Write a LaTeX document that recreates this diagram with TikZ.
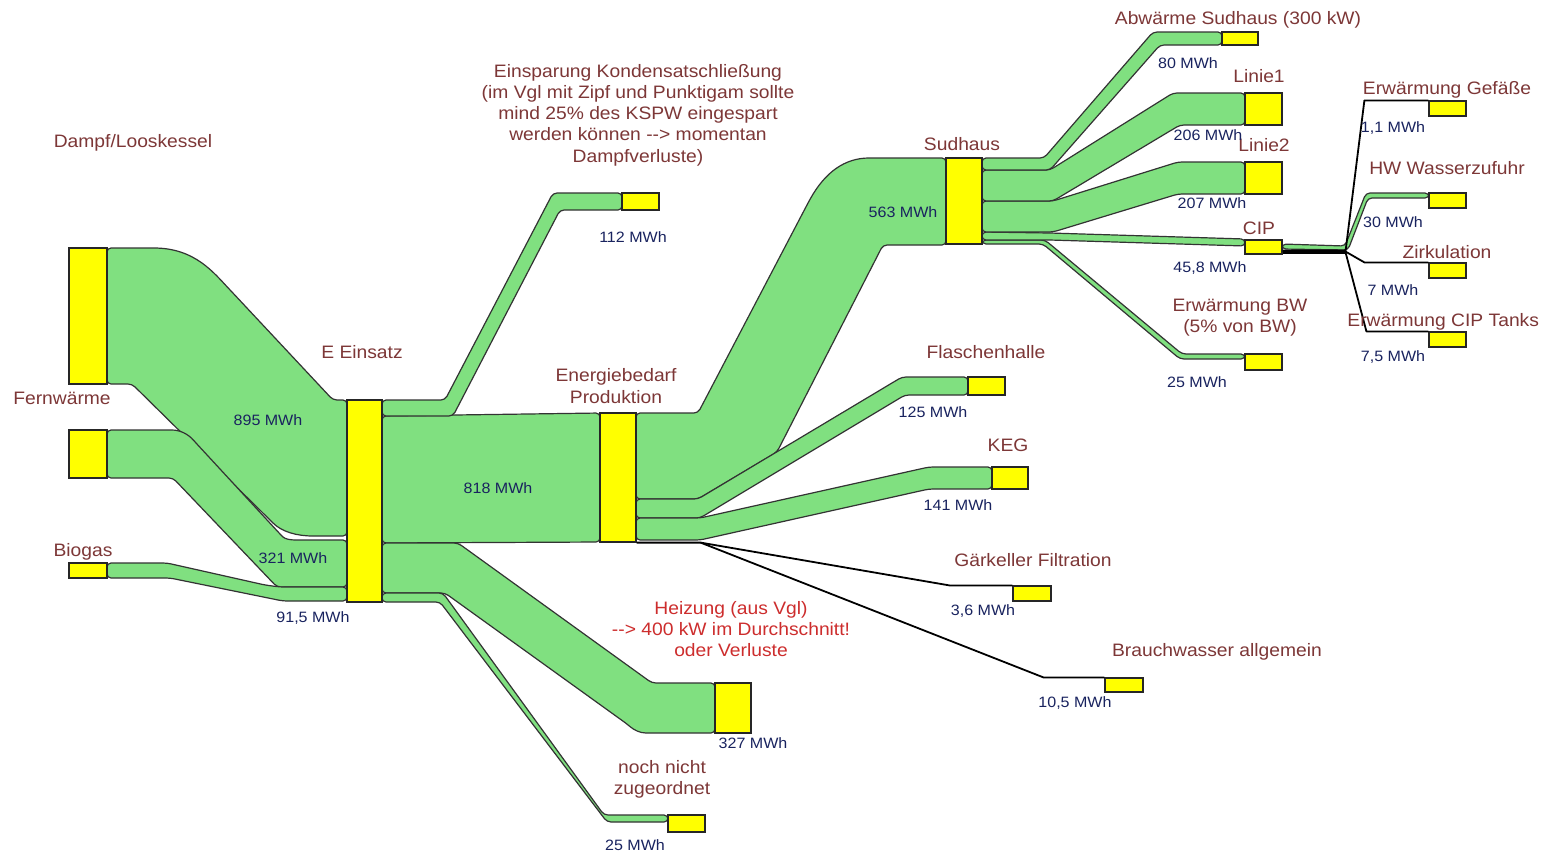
\documentclass[tikz,border=0pt]{standalone}
\usepackage{fontspec}
\setmainfont{Liberation Sans}[FakeStretch=1.07]
\usetikzlibrary{calc,fit}
\definecolor{bandgreen}{RGB}{128,224,128}
\definecolor{boxyellow}{RGB}{255,255,0}
\definecolor{labelbrown}{RGB}{125,55,55}
\definecolor{labelred}{RGB}{205,45,45}
\definecolor{valueblue}{RGB}{25,35,95}

\begin{document}
\begin{tikzpicture}[x=0.5pt,y=-0.5pt,
  band/.style={fill=bandgreen,draw=black!80,line width=0.6pt,line join=round,rounded corners=2pt},
  kasten/.style={fill=boxyellow,draw=black!85,line width=0.6pt,inner sep=0pt},
  leitung/.style={draw=black,line width=0.9pt,line join=round},
  titel/.style={text=labelbrown,font=\fontsize{9}{10.6}\selectfont,align=center,inner sep=0pt},
  wert/.style={text=valueblue,font=\fontsize{7.5}{9}\selectfont,inner sep=0pt}]
\useasboundingbox (0,0) rectangle (1548,853);
\fill[white] (0,0) rectangle (1548,853);

% zufluesse
\path[band] (107,248) -- (150,248) .. controls (195,248) and (214,273) .. (232,292) -- (333,400) -- (347,400)
  -- (347,536) -- (317,536) .. controls (297,536) and (282,532) .. (270,520) -- (132,384) -- (107,384) -- cycle;
\path[band] (107,430) -- (168,430) .. controls (180,430) and (188,434) .. (196,443) -- (280,534)
  .. controls (285,539) and (290,540) .. (300,540) -- (347,540) -- (347,587) -- (277,587) -- (173,478) -- (107,478) -- cycle;
\path[band] (107,563) -- (167,563) -- (265,585) -- (280,587) -- (347,587) -- (347,601) -- (283,601) -- (170,578) -- (107,578) -- cycle;

% E Einsatz
\path[band] (382,416) -- (600,413) -- (600,542) -- (382,543) -- cycle;
\path[band] (382,400) -- (445,400) -- (553,193) -- (622,193) -- (622,210) -- (560,210) -- (453,416) -- (382,416) -- cycle;
\path[band] (382,543) -- (458,543) -- (652,683) -- (715,683) -- (715,733) -- (650,733)
  .. controls (640,733) and (634,730) .. (627,724) -- (445,593) -- (382,593) -- cycle;
\path[band] (382,593) -- (443,593) -- (604,815) -- (668,815) -- (668,822) -- (607,822) -- (440,602) -- (382,602) -- cycle;

% Energiebedarf Produktion
\path[band] (636,413) -- (698,413) -- (808,203) .. controls (825,172) and (845,158) .. (873,158) -- (946,158)
  -- (946,245) -- (883,245) -- (777,452) -- (698,499) -- (636,499) -- cycle;
\path[band] (636,499) -- (698,499) -- (902,377) -- (968,377) -- (968,395) -- (905,395) -- (700,518) -- (636,518) -- cycle;
\path[band] (636,518) -- (700,518) -- (929,467) -- (992,467) -- (992,489) -- (929,489) -- (700,540) -- (636,540) -- cycle;

% Sudhaus
\path[band] (982,240) -- (1045,240) -- (1182,354) -- (1245,354) -- (1245,359) -- (1180,359) -- (1043,244) -- (982,244) -- cycle;
\path[band] (982,232) -- (1050,233) -- (1245,239) -- (1245,246) -- (1050,240) -- (982,240) -- cycle;
\path[band] (982,201) -- (1053,201) -- (1178,162) -- (1245,162) -- (1245,194) -- (1178,194) -- (1053,232) -- (982,232) -- cycle;
\path[band] (982,170) -- (1050,170) -- (1173,93) -- (1245,93) -- (1245,125) -- (1180,125) -- (1053,201) -- (982,201) -- cycle;
\path[band] (982,158) -- (1044,158) -- (1153,32) -- (1222,32) -- (1222,45) -- (1160,45) -- (1050,170) -- (982,170) -- cycle;

% CIP
\path[band] (1282,244) -- (1345,246) -- (1366,193) -- (1429,193) -- (1429,198) -- (1368,198) -- (1348,250) -- (1282,249) -- cycle;

% kaesten
\node[kasten,fit={(69,248) (107,384)}] (dampf) {};
\node[kasten,fit={(69,430) (107,478)}] (fern) {};
\node[kasten,fit={(69,563) (107,578)}] (biogas) {};
\node[kasten,fit={(347,400) (382,602)}] (einsatz) {};
\node[kasten,fit={(622,193) (659,210)}] (spar) {};
\node[kasten,fit={(600,413) (636,542)}] (prod) {};
\node[kasten,fit={(715,683) (751,733)}] (heiz) {};
\node[kasten,fit={(668,815) (705,832)}] (offen) {};
\node[kasten,fit={(946,158) (982,244)}] (sud) {};
\node[kasten,fit={(968,377) (1005,395)}] (flasche) {};
\node[kasten,fit={(992,467) (1028,489)}] (keg) {};
\node[kasten,fit={(1013,586) (1051,601)}] (gaer) {};
\node[kasten,fit={(1105,678) (1143,692)}] (brauch) {};
\node[kasten,fit={(1222,32) (1258,45)}] (abw) {};
\node[kasten,fit={(1245,93) (1282,125)}] (linie1) {};
\node[kasten,fit={(1245,162) (1282,194)}] (linie2) {};
\node[kasten,fit={(1245,240) (1282,254)}] (cip) {};
\node[kasten,fit={(1245,354) (1282,370)}] (bw) {};
\node[kasten,fit={(1429,101) (1466,116)}] (gefaesse) {};
\node[kasten,fit={(1429,193) (1466,208)}] (hw) {};
\node[kasten,fit={(1429,263) (1466,278)}] (zirk) {};
\node[kasten,fit={(1429,332) (1466,347)}] (tanks) {};

% duenne leitungen
\draw[leitung] (prod.south east) -- ++(64,0) coordinate (split) -- ($(gaer.north west)+(-63,0)$) -- (gaer.north west);
\draw[leitung] (split) -- ($(brauch.north west)+(-61,0)$) -- (brauch.north west);
\draw[leitung] ($(cip.south east)+(0,-4)$) -- ++(63,0) coordinate (cipsplit) -- ($(gefaesse.north west)+(-64,0)$) -- (gefaesse.north west);
\draw[leitung,line width=1.3pt] ($(cip.south east)+(0,-2)$) -- ($(cipsplit)+(0,2)$);
\draw[leitung] ($(cipsplit)+(0,1)$) -- ($(zirk.north west)+(-64,0)$) -- (zirk.north west);
\draw[leitung] ($(cipsplit)+(0,2)$) -- ($(tanks.north west)+(-62,0)$) -- (tanks.north west);

% namen
\node[titel] at (133,143) {Dampf/Looskessel};
\node[titel] at (62,398) {Fernwärme};
\node[titel] at (83,552) {Biogas};
\node[titel] at (362,352) {E Einsatz};
\node[titel] at (638,115) {Einsparung Kondensatschließung\\(im Vgl mit Zipf und Punktigam sollte\\mind 25\% des KSPW eingespart\\werden können -{}-{}> momentan\\Dampfverluste)};
\node[titel] at (616,386) {Energiebedarf\\Produktion};
\node[titel] at (962,144) {Sudhaus};
\node[titel] at (1238,20) {Abwärme Sudhaus (300 kW)};
\node[titel] at (1259,76) {Linie1};
\node[titel] at (1264,145) {Linie2};
\node[titel] at (1259,228) {CIP};
\node[titel] at (1240,318) {Erwärmung BW\\(5\% von BW)};
\node[titel] at (986,352) {Flaschenhalle};
\node[titel] at (1008,445) {KEG};
\node[titel] at (1033,560) {Gärkeller Filtration};
\node[titel] at (1217,652) {Brauchwasser allgemein};
\node[titel,text=labelred] at (731,629) {Heizung (aus Vgl)\\-{}-{}> 400 kW im Durchschnitt!\\oder Verluste};
\node[titel] at (662,779) {noch nicht\\zugeordnet};
\node[titel] at (1447,90) {Erwärmung Gefäße};
\node[titel] at (1447,168) {HW Wasserzufuhr};
\node[titel] at (1447,252) {Zirkulation};
\node[titel,anchor=west] at (1347,322) {Erwärmung CIP Tanks};

% werte
\node[wert] at (268,420) {895 MWh};
\node[wert] at (293,558) {321 MWh};
\node[wert] at (313,618) {91,5 MWh};
\node[wert] at (498,488) {818 MWh};
\node[wert] at (633,237) {112 MWh};
\node[wert] at (903,212) {563 MWh};
\node[wert] at (753,743) {327 MWh};
\node[wert] at (635,845) {25 MWh};
\node[wert] at (933,412) {125 MWh};
\node[wert] at (958,505) {141 MWh};
\node[wert] at (983,611) {3,6 MWh};
\node[wert] at (1075,703) {10,5 MWh};
\node[wert] at (1188,63) {80 MWh};
\node[wert] at (1208,135) {206 MWh};
\node[wert] at (1212,203) {207 MWh};
\node[wert] at (1210,268) {45,8 MWh};
\node[wert] at (1197,382) {25 MWh};
\node[wert] at (1393,128) {1,1 MWh};
\node[wert] at (1393,222) {30 MWh};
\node[wert] at (1393,290) {7 MWh};
\node[wert] at (1393,357) {7,5 MWh};
\end{tikzpicture}
\end{document}
